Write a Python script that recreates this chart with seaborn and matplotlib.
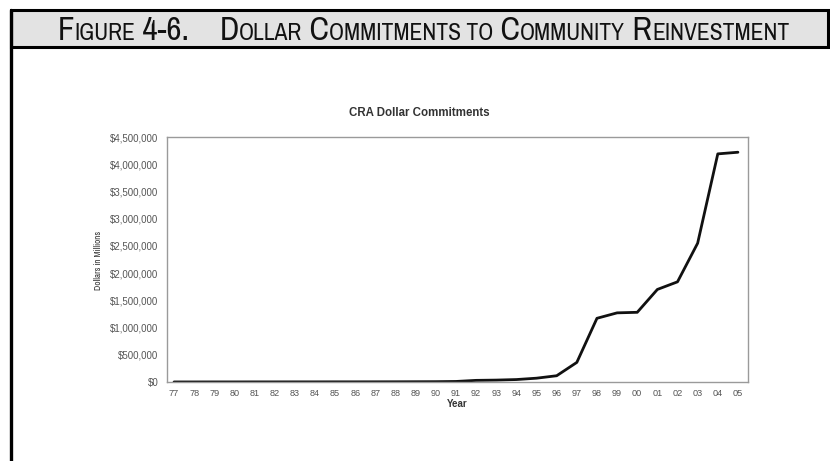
import matplotlib
matplotlib.use("Agg")
import matplotlib.pyplot as plt
from matplotlib.patches import Rectangle
from matplotlib.lines import Line2D
import seaborn as sns
import pandas as pd

# ---- data ----
years = list(range(1977, 2006))
year_labels = [f"{y % 100:02d}" for y in years]
commitments = [1000, 1000, 1500, 1500, 2000, 2000, 2500, 2500, 3000, 3000,
               3500, 4000, 5000, 6000, 10000, 30000, 35000, 45000, 70000,
               115000, 360000, 1170000, 1270000, 1280000, 1700000, 1840000,
               2550000, 4190000, 4220000]
y_ticks = [0, 500000, 1000000, 1500000, 2000000, 2500000, 3000000, 3500000, 4000000, 4500000]
y_tick_labels = [f"${v:,}" for v in y_ticks]

header_pieces = [("F", 23), ("IGURE", 16.5), (" 4-6.    ", 23), ("D", 23), ("OLLAR", 16.5),
                 (" C", 23), ("OMMITMENTS TO", 16.5), (" C", 23), ("OMMUNITY", 16.5),
                 (" R", 23), ("EINVESTMENT", 16.5)]

df = pd.DataFrame({"Year": years, "Dollars": commitments})

sns.set_theme(style="white")
plt.rcParams['font.family'] = ['Liberation Sans', 'DejaVu Sans']

W, H = 830, 461
fig = plt.figure(figsize=(W / 100, H / 100), dpi=100)
fig.patch.set_facecolor("white")

def px(x, y):
    return x / W, 1 - y / H

# frame: header box and left rule
x0, y0 = px(11, 47)
x1, y1 = px(828, 10)
fig.add_artist(Rectangle((x0, y0), x1 - x0, y1 - y0, transform=fig.transFigure,
                         facecolor="#e3e3e3", edgecolor="black", linewidth=2.2, zorder=5))
fig.add_artist(Line2D([11 / W, 11 / W], [0, 1 - 10 / H], transform=fig.transFigure,
                      color="black", linewidth=2.4, zorder=5))

# header text in small caps, built from pieces
narrow = ['Archivo Narrow', 'PT Sans Narrow', 'Liberation Sans', 'DejaVu Sans']
fig.canvas.draw()
renderer = fig.canvas.get_renderer()
texts = []
cur_x = 0.0
base_y = 1 - 39.5 / H
for s, size in header_pieces:
    t = fig.text(cur_x, base_y, s, fontsize=size, family=narrow, color="#111111",
                 va="baseline", ha="left", zorder=6)
    bb = t.get_window_extent(renderer=renderer)
    cur_x += bb.width / W
    texts.append(t)
total = cur_x
target_left = 58 / W
target_w = (790 - 58) / W
scale = target_w / total
cur_x = target_left
for t, (s, size) in zip(texts, header_pieces):
    t.set_fontsize(size * scale)
    t.set_x(cur_x)
    bb = t.get_window_extent(renderer=renderer)
    cur_x += bb.width / W

# axes
left, bottom = px(167, 382)
right, top = px(748, 137)
ax = fig.add_axes([left, bottom, right - left, top - bottom])
sns.lineplot(data=df, x="Year", y="Dollars", ax=ax, color="#111111", linewidth=2.0)

ax.set_xlim(1976.65, 2005.5)
ax.set_ylim(0, 4500000)
ax.set_xticks(years)
ax.set_xticklabels(year_labels)
ax.set_yticks(y_ticks)
ax.set_yticklabels(y_tick_labels)
ax.tick_params(axis="both", length=0, labelsize=7, labelcolor="#555555")
ax.tick_params(axis="y", pad=6)
ax.tick_params(axis="x", pad=5, labelsize=6.6)
for sp in ax.spines.values():
    sp.set_color("#9a9a9a")
    sp.set_linewidth(1.0)
ax.set_xlabel("Year", fontsize=7, fontweight="bold", color="#333333", labelpad=1)
ax.set_ylabel("")
fig.text(98 / W, 1 - 260 / H, "Dollars in Millions", rotation=90, fontsize=6.5,
         family=narrow, fontweight="bold", color="#333333", ha="center", va="center")
fig.text(419 / W, 1 - 113 / H, "CRA Dollar Commitments", fontsize=8.3,
         fontweight="bold", color="#333333", ha="center", va="center")

fig.savefig("out.png", dpi=100, facecolor="white")
